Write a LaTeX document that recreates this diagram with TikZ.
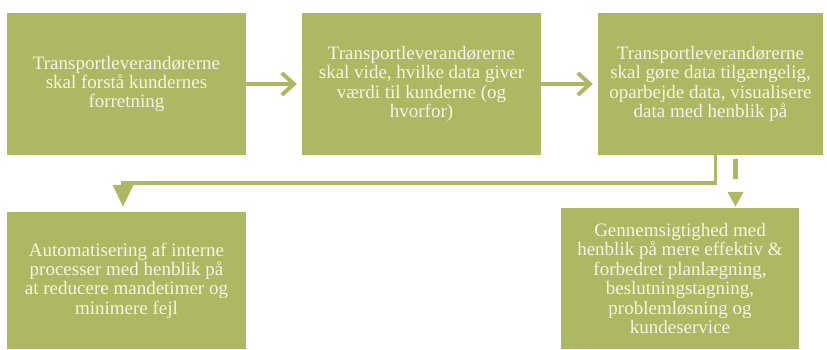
\documentclass[tikz,border=0pt]{standalone}
\usepackage{fontspec}
\setmainfont{Liberation Serif}
\usetikzlibrary{arrows.meta}
\definecolor{boxgreen}{RGB}{174,184,98}
\definecolor{boxtext}{RGB}{246,244,232}
\begin{document}
\begin{tikzpicture}[x=1pt,y=-1pt,
  box/.style={fill=boxgreen, draw=none, inner sep=0pt, align=center,
    text=boxtext, font=\fontsize{19}{19.4}\selectfont},
  conn/.style={draw=boxgreen, line width=4pt}]
\useasboundingbox (0,0) rectangle (827,349);
\node[box, minimum width=239pt, minimum height=142pt] (b1) at (126.5,84)
  {Transportleverandørerne\\skal forstå kundernes\\forretning};
\node[box, minimum width=239pt, minimum height=142pt] (b2) at (421.5,84)
  {Transportleverandørerne\\skal vide, hvilke data giver\\værdi til kunderne (og\\hvorfor)};
\node[box, minimum width=225pt, minimum height=142pt] (b3) at (710.5,84)
  {Transportleverandørerne\\skal gøre data tilgængelig,\\oparbejde data, visualisere\\data med henblik på};
\node[box, minimum width=239pt, minimum height=137pt] (b4) at (126.5,280.5)
  {Automatisering af interne\\processer med henblik på\\at reducere mandetimer og\\minimere fejl};
\node[box, minimum width=238pt, minimum height=141pt] (b5) at (680,278.5)
  {Gennemsigtighed med\\henblik på mere effektiv \&\\forbedret planlægning,\\beslutningstagning,\\problemløsning og\\kundeservice};
\draw[conn, -{Straight Barb[length=12pt,width=22pt]}, shorten >=5pt] (b1) -- (b2);
\draw[conn, -{Straight Barb[length=12pt,width=22pt]}, shorten >=5pt] (b2) -- (b3);
\coordinate (c1) at (715.5,183);
\draw[conn, line width=3.5pt, -{Triangle[width=20pt,length=22pt]}, shorten >=5pt]
  (b3.south -| c1) -- (c1) -| (b4.north -| 123,0);
\draw[conn, line width=5pt, dash pattern=on 20pt off 13pt, dash phase=29pt,
  -{Triangle[width=15pt,length=15pt]}, shorten >=1pt]
  (b3.south -| 735.5,0) -- (b5.north -| 735.5,0);
\end{tikzpicture}
\end{document}
